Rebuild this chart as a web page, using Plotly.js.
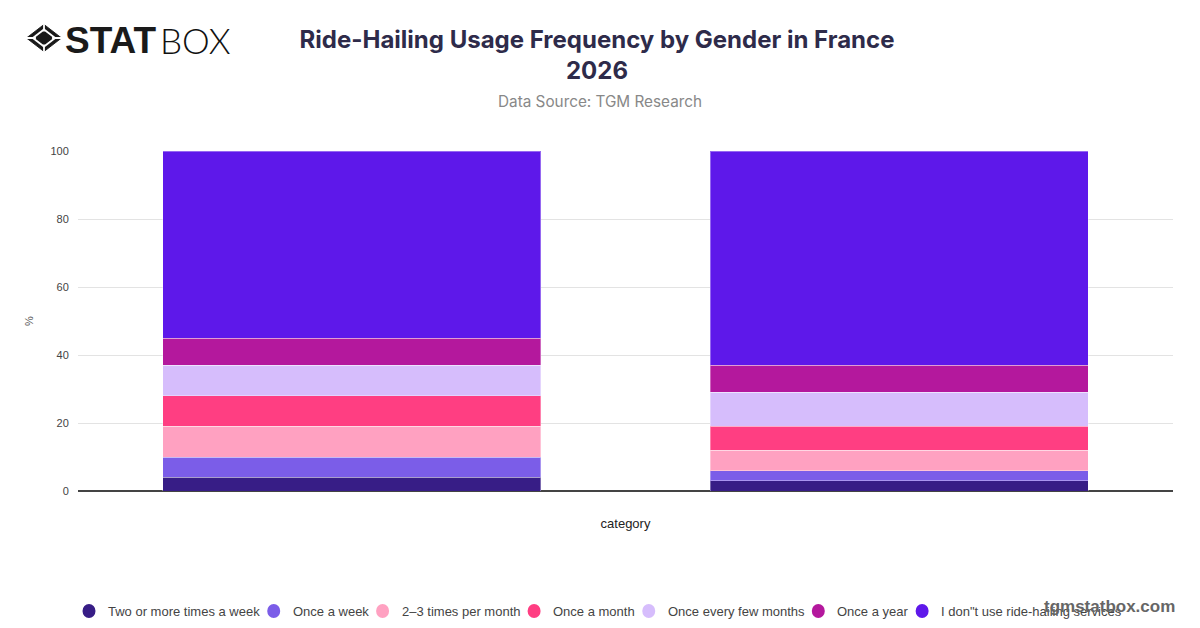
<!DOCTYPE html>
<html>
<head>
<meta charset="utf-8">
<script src="https://cdn.plot.ly/plotly-3.0.1.min.js"></script>
<style>html,body{margin:0;padding:0;background:#fff;}#chart{width:1200px;height:628px;}</style>
</head>
<body>
<div id="chart"></div>
<script>
const categories = ["Male", "Female"];
const seriesNames = ["Two or more times a week", "Once a week", "2–3 times per month", "Once a month", "Once every few months", "Once a year", "I don\"t use ride-hailing services"];
const twoOrMore = [4, 3];
const onceWeek = [6, 3];
const twoThreeMonth = [9, 6];
const onceMonth = [9, 7];
const fewMonths = [9, 10];
const onceYear = [8, 8];
const dontUse = [55, 63];
const yTicks = [0, 20, 40, 60, 80, 100];
const colors = ["#371d86", "#7b5de8", "#ffa1c1", "#ff3e82", "#d6bdfc", "#b4189d", "#5e18ea"];

const seriesValues = [twoOrMore, onceWeek, twoThreeMonth, onceMonth, fewMonths, onceYear, dontUse];

// plot-area geometry (px) for placing paper-referenced decorations
const W = 1200, H = 628, ML = 78, MR = 27, MT = 151, MB = 137;
const PW = W - ML - MR, PH = H - MT - MB;
const px = x => (x - ML) / PW;
const py = y => (H - MB - y) / PH;

const traces = seriesValues.map((vals, i) => ({
  type: "bar", x: categories, y: vals, name: seriesNames[i],
  marker: {color: colors[i], line: {color: "rgba(255,255,255,0.35)", width: 1}},
  showlegend: false, hoverinfo: "y+name"
}));

// custom legend (circle + label), spaced by measured text width
const legendFont = "13px 'Liberation Sans', Arial, sans-serif";
const cv = document.createElement("canvas").getContext("2d");
cv.font = legendFont;
const shapes = [];
const annotations = [];
let cx = 89;
const ly = 611;
seriesNames.forEach((name, i) => {
  shapes.push({type: "circle", xref: "paper", yref: "paper",
    x0: px(cx - 6.5), x1: px(cx + 6.5), y0: py(ly + 7), y1: py(ly - 7),
    fillcolor: colors[i], line: {width: 0}});
  annotations.push({text: name, xref: "paper", yref: "paper",
    x: px(cx + 17), y: py(ly), xanchor: "left", yanchor: "middle", showarrow: false,
    font: {family: "Liberation Sans, Arial, sans-serif", size: 13, color: "#444"}});
  cx += 17 + cv.measureText(name).width + 16;
});

const diamondSvg = 'data:image/svg+xml;utf8,' + encodeURIComponent(
  '<svg xmlns="http://www.w3.org/2000/svg" width="40" height="30" viewBox="0 0 40 30">' +
  '<path d="M20 0.5 L39.5 15 L20 29.5 L0.5 15 Z" fill="#1a1a1a" stroke="#1a1a1a" stroke-linejoin="round" stroke-width="1"/>' +
  '<path d="M20 4.5 L34 15 L20 25.5 L6 15 Z" fill="#fff"/>' +
  '<path d="M20 8 L29.5 15 L20 22 L10.5 15 Z" fill="#1a1a1a" stroke="#1a1a1a" stroke-linejoin="round" stroke-width="1.5"/>' +
  '<path d="M20 0 L20 8 M40 15 L29 15 M20 30 L20 22 M0 15 L11 15" stroke="#fff" stroke-width="2"/>' +
  '</svg>');

annotations.push(
  {text: "Data Source: TGM Research", xref: "paper", yref: "paper",
   x: px(600), y: py(101), xanchor: "center", yanchor: "middle", showarrow: false,
   font: {family: "Inter, sans-serif", size: 15.3, color: "#888"}},
  {text: "STAT", xref: "paper", yref: "paper",
   x: px(63), y: py(40), xanchor: "left", yanchor: "middle", showarrow: false,
   font: {family: "Liberation Sans, Arial, sans-serif", size: 37, color: "#1a1a1a", weight: 900}},
  {text: "BOX", xref: "paper", yref: "paper",
   x: px(158), y: py(40), xanchor: "left", yanchor: "middle", showarrow: false,
   font: {family: "Lato, sans-serif", size: 35, color: "#111", weight: 300}},
  {text: "<b>tgmstatbox.com</b>", xref: "paper", yref: "paper",
   x: px(1177), y: py(606), xanchor: "right", yanchor: "middle", showarrow: false,
   font: {family: "Liberation Sans, Arial, sans-serif", size: 17, color: "#666"}}
);

const layout = {
  width: W, height: H,
  margin: {l: ML, r: MR, t: MT, b: MB},
  paper_bgcolor: "#fff", plot_bgcolor: "#fff",
  barmode: "stack", bargap: 0.31,
  showlegend: false,
  font: {family: "Liberation Sans, Arial, sans-serif", color: "#444"},
  title: {
    text: "Ride-Hailing Usage Frequency by Gender in France<br>2026",
    font: {family: "Inter, sans-serif", size: 24, color: "#2e2b4a", weight: 700},
    x: 0.4975, xref: "container", xanchor: "center",
    y: 1 - 48/628, yref: "container", yanchor: "top"
  },
  xaxis: {
    showticklabels: false, showgrid: false, zeroline: false, showline: false,
    title: {text: "category", font: {size: 13, color: "#222"}, standoff: 27}
  },
  yaxis: {
    range: [0, 100], tickvals: yTicks, ticktext: yTicks.map(String),
    showgrid: true, gridcolor: "#e3e3e3", gridwidth: 1,
    zeroline: true, zerolinecolor: "#444", zerolinewidth: 1.5,
    tickfont: {size: 11, color: "#444"}, ticks: "outside", ticklen: 6, tickcolor: "rgba(0,0,0,0)",
    title: {text: "%", font: {size: 11, color: "#555"}, standoff: 14}
  },
  shapes: shapes,
  images: [{
    source: diamondSvg, xref: "paper", yref: "paper",
    x: px(26), y: py(24), sizex: 36/PW, sizey: 28/PH,
    xanchor: "left", yanchor: "top", sizing: "stretch", layer: "above"
  }],
  annotations: annotations
};

Plotly.newPlot("chart", traces, layout, {displayModeBar: false, responsive: false});
</script>
</body>
</html>
